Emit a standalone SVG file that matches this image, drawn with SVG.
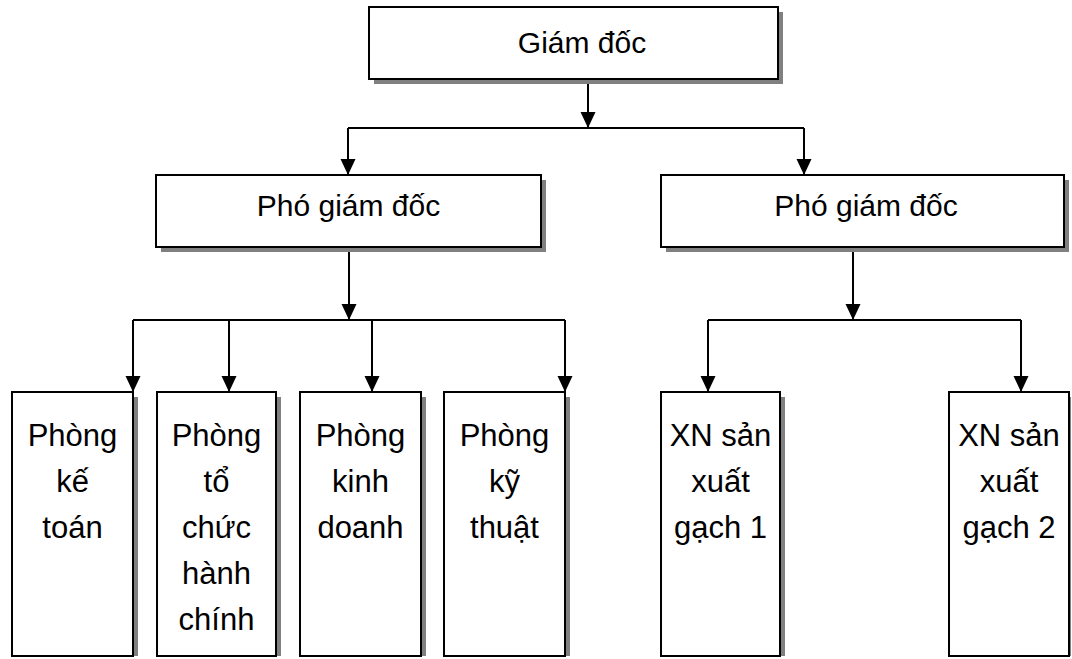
<svg xmlns="http://www.w3.org/2000/svg" width="1072" height="659" viewBox="0 0 1072 659">
  <defs>
    <marker id="arrow" markerWidth="16" markerHeight="16" refX="16" refY="7.5" orient="auto" markerUnits="userSpaceOnUse">
      <path d="M0,0 L16,7.5 L0,15 z" fill="#000"/>
    </marker>
    <style>
      .shadow { fill: #808080; }
      .box { fill: #fff; stroke: #000; stroke-width: 2; }
      .conn { fill: none; stroke: #000; stroke-width: 2; }
      .t1 { font-family: "Liberation Sans", Arial, sans-serif; font-size: 30px; fill: #000; text-anchor: middle; }
      .t2 { font-family: "Liberation Sans", Arial, sans-serif; font-size: 31px; fill: #000; text-anchor: middle; }
    </style>
  </defs>
  <rect width="1072" height="659" fill="#fff"/>

  <g id="connectors">
    <path class="conn" d="M588,79 V128" marker-end="url(#arrow)"/>
    <path class="conn" d="M348,128 H804"/>
    <path class="conn" d="M348,128 V175" marker-end="url(#arrow)"/>
    <path class="conn" d="M804,128 V175" marker-end="url(#arrow)"/>

    <path class="conn" d="M349,247 V320" marker-end="url(#arrow)"/>
    <path class="conn" d="M133,320 H565"/>
    <path class="conn" d="M133,320 V392" marker-end="url(#arrow)"/>
    <path class="conn" d="M229,320 V392" marker-end="url(#arrow)"/>
    <path class="conn" d="M372,320 V392" marker-end="url(#arrow)"/>
    <path class="conn" d="M565,320 V392" marker-end="url(#arrow)"/>

    <path class="conn" d="M853,247 V320" marker-end="url(#arrow)"/>
    <path class="conn" d="M708,320 H1021"/>
    <path class="conn" d="M708,320 V392" marker-end="url(#arrow)"/>
    <path class="conn" d="M1021,320 V392" marker-end="url(#arrow)"/>
  </g>

  <g id="giam-doc">
    <rect class="shadow" x="374" y="12" width="409" height="72"/>
    <rect class="box" x="369" y="7" width="409" height="72"/>
    <text class="t1" x="582" y="53">Giám đốc</text>
  </g>

  <g id="pho-giam-doc-1">
    <rect class="shadow" x="161" y="180" width="385" height="72"/>
    <rect class="box" x="156" y="175" width="385" height="72"/>
    <text class="t1" x="348.5" y="216">Phó giám đốc</text>
  </g>

  <g id="pho-giam-doc-2">
    <rect class="shadow" x="666" y="180" width="403" height="72"/>
    <rect class="box" x="661" y="175" width="403" height="72"/>
    <text class="t1" x="866" y="216">Phó giám đốc</text>
  </g>

  <g id="phong-ke-toan">
    <rect class="shadow" x="17" y="397" width="121" height="259"/>
    <rect class="box" x="12" y="392" width="121" height="264"/>
    <text class="t2" x="72.5" y="446">Phòng</text>
    <text class="t2" x="72.5" y="492">kế</text>
    <text class="t2" x="72.5" y="538">toán</text>
  </g>

  <g id="phong-to-chuc-hanh-chinh">
    <rect class="shadow" x="162" y="397" width="119" height="259"/>
    <rect class="box" x="157" y="392" width="119" height="264"/>
    <text class="t2" x="216.5" y="446">Phòng</text>
    <text class="t2" x="216.5" y="492">tổ</text>
    <text class="t2" x="216.5" y="538">chức</text>
    <text class="t2" x="216.5" y="584">hành</text>
    <text class="t2" x="216.5" y="630">chính</text>
  </g>

  <g id="phong-kinh-doanh">
    <rect class="shadow" x="305" y="397" width="121" height="259"/>
    <rect class="box" x="300" y="392" width="121" height="264"/>
    <text class="t2" x="360.5" y="446">Phòng</text>
    <text class="t2" x="360.5" y="492">kinh</text>
    <text class="t2" x="360.5" y="538">doanh</text>
  </g>

  <g id="phong-ky-thuat">
    <rect class="shadow" x="449" y="397" width="121" height="259"/>
    <rect class="box" x="444" y="392" width="121" height="264"/>
    <text class="t2" x="504.5" y="446">Phòng</text>
    <text class="t2" x="504.5" y="492">kỹ</text>
    <text class="t2" x="504.5" y="538">thuật</text>
  </g>

  <g id="xn-san-xuat-gach-1">
    <rect class="shadow" x="666" y="397" width="119" height="259"/>
    <rect class="box" x="661" y="392" width="119" height="264"/>
    <text class="t2" x="720.5" y="446">XN sản</text>
    <text class="t2" x="720.5" y="492">xuất</text>
    <text class="t2" x="720.5" y="538">gạch 1</text>
  </g>

  <g id="xn-san-xuat-gach-2">
    <rect class="shadow" x="954" y="397" width="117" height="259"/>
    <rect class="box" x="949" y="392" width="120" height="264"/>
    <text class="t2" x="1009" y="446">XN sản</text>
    <text class="t2" x="1009" y="492">xuất</text>
    <text class="t2" x="1009" y="538">gạch 2</text>
  </g>
</svg>
